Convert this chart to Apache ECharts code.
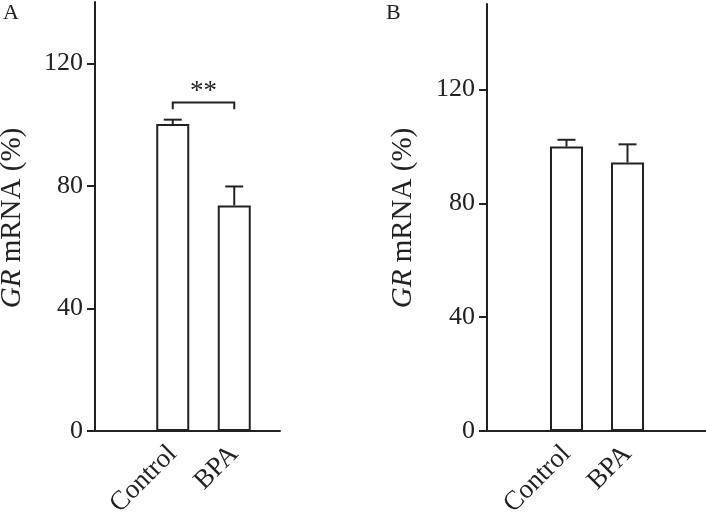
<!DOCTYPE html>
<html>
<head>
<meta charset="utf-8">
<script src="https://cdn.jsdelivr.net/npm/echarts@6/dist/echarts.min.js"></script>
<style>
    html,body{margin:0;padding:0;background:#fff;}
    #chart{width:706px;height:515px;}
</style>
</head>
<body>
<div id="chart"></div>
<script>
    // 数据
    var categories = ['Control', 'BPA'];
    var meanA = [100.2, 73.6];
    var errA = [1.4, 6.2];
    var meanB = [99.9, 94.3];
    var errB = [2.4, 6.4];
    var yTicksA = [0, 40, 80, 120];
    var yTicksB = [0, 40, 80, 120];
    var yMaxA = 140;
    var yMaxB = 150;
    // 显著性标记 (A): 横线值, 竖脚下端值, 文本
    var sigA = {from: 0, to: 1, top: 107.2, foot: 105, text: '**'};

    var FONT = 'Liberation Serif';
    var INK = '#222';

    // 误差线
    function errItem(params, api) {
        var x = api.value(0), v = api.value(1), e = api.value(2);
        var p0 = api.coord([x, v]);
        var p1 = api.coord([x, v + e]);
        var cap = 9;
        return {
            type: 'group',
            children: [
                {type: 'line', shape: {x1: p0[0], y1: p0[1], x2: p1[0], y2: p1[1]}, style: {stroke: INK, lineWidth: 2}},
                {type: 'line', shape: {x1: p1[0] - cap, y1: p1[1], x2: p1[0] + cap, y2: p1[1]}, style: {stroke: INK, lineWidth: 2}}
            ]
        };
    }

    // 显著性括号
    function sigItem(params, api) {
        var a = api.coord([api.value(0), api.value(2)]);
        var b = api.coord([api.value(1), api.value(2)]);
        var fa = api.coord([api.value(0), api.value(3)]);
        return {
            type: 'group',
            children: [
                {type: 'polyline', shape: {points: [[a[0], fa[1]], [a[0], a[1]], [b[0], b[1]], [b[0], fa[1]]]},
                    style: {stroke: INK, lineWidth: 2, fill: null}},
                {type: 'text', x: (a[0] + b[0]) / 2, y: a[1] + 3,
                    style: {text: sigA.text, fontFamily: FONT, fontSize: 27, fill: INK, align: 'center', verticalAlign: 'bottom'}}
            ]
        };
    }

    function frameY(max, ticks, idx) {
        return {
            type: 'value', gridIndex: idx, min: 0, max: max, interval: 40,
            axisLine: {show: true, lineStyle: {color: INK, width: 2}},
            axisTick: {show: true, length: 8, customValues: ticks, lineStyle: {color: INK, width: 2}},
            axisLabel: {customValues: ticks, margin: 12, fontFamily: FONT, fontSize: 26, color: INK},
            splitLine: {show: false}
        };
    }
    function frameX(idx) {
        return {
            type: 'value', gridIndex: idx, min: 0, max: 1,
            axisLine: {show: true, onZero: false, lineStyle: {color: INK, width: 2}},
            axisTick: {show: false}, axisLabel: {show: false}, splitLine: {show: false}
        };
    }
    function barX(idx) {
        return {
            type: 'category', gridIndex: idx, data: categories,
            axisLine: {show: false}, axisTick: {show: false},
            axisLabel: {rotate: 45, margin: 19, fontFamily: FONT, fontSize: 27, color: INK, interval: 0}
        };
    }
    function barY(max, idx) {
        return {type: 'value', gridIndex: idx, min: 0, max: max, show: false, splitLine: {show: false}};
    }
    function bars(data, xi, yi) {
        return {
            type: 'bar', xAxisIndex: xi, yAxisIndex: yi, data: data, barWidth: 33,
            itemStyle: {color: '#fff', borderColor: INK, borderWidth: 2},
            silent: true, z: 3
        };
    }
    function errs(mean, err, xi, yi) {
        var d = [];
        for (var i = 0; i < mean.length; i++) d.push([i, mean[i], err[i]]);
        return {type: 'custom', xAxisIndex: xi, yAxisIndex: yi, data: d, renderItem: errItem, z: 4, silent: true};
    }

    var titleRich = {
        i: {fontFamily: FONT, fontSize: 29, fontStyle: 'italic', fill: INK},
        n: {fontFamily: FONT, fontSize: 29, fill: INK}
    };

    var option = {
        animation: false,
        backgroundColor: '#fff',
        grid: [
            {left: 95, top: 2, width: 185, bottom: 84, outerBoundsMode: 'none'},
            {left: 142, top: 2, width: 123, bottom: 84, outerBoundsMode: 'none'},
            {left: 487, top: 4, width: 219, bottom: 84, outerBoundsMode: 'none'},
            {left: 536, top: 4, width: 122, bottom: 84, outerBoundsMode: 'none'}
        ],
        xAxis: [frameX(0), barX(1), frameX(2), barX(3)],
        yAxis: [frameY(yMaxA, yTicksA, 0), barY(yMaxA, 1), frameY(yMaxB, yTicksB, 2), barY(yMaxB, 3)],
        series: [
            bars(meanA, 1, 1),
            errs(meanA, errA, 1, 1),
            {type: 'custom', xAxisIndex: 1, yAxisIndex: 1, data: [[sigA.from, sigA.to, sigA.top, sigA.foot]],
                renderItem: sigItem, z: 4, silent: true},
            bars(meanB, 3, 3),
            errs(meanB, errB, 3, 3)
        ],
        graphic: [
            {type: 'text', left: 3, top: 2, style: {text: 'A', fontFamily: FONT, fontSize: 22, fill: INK}},
            {type: 'text', left: 386, top: 2, style: {text: 'B', fontFamily: FONT, fontSize: 22, fill: INK}},
            {type: 'text', x: 12, y: 218, rotation: Math.PI / 2,
                style: {text: '{i|GR}{n| mRNA (%)}', rich: titleRich, align: 'center', verticalAlign: 'middle'}},
            {type: 'text', x: 403, y: 218, rotation: Math.PI / 2,
                style: {text: '{i|GR}{n| mRNA (%)}', rich: titleRich, align: 'center', verticalAlign: 'middle'}}
        ]
    };

    var myChart = echarts.init(document.getElementById('chart'));
    myChart.setOption(option);
</script>
</body>
</html>
